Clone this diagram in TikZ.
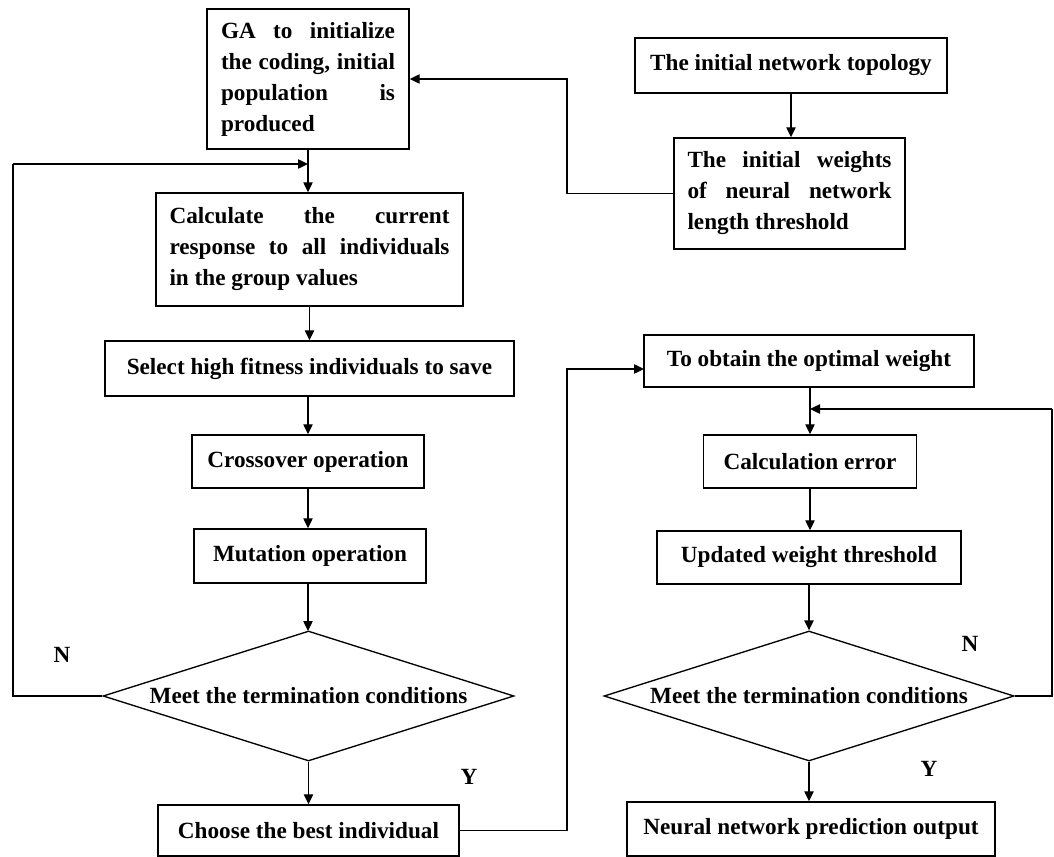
\documentclass[tikz,border=0pt]{standalone}
\usepackage{fontspec}
\setmainfont{Liberation Serif}
\usetikzlibrary{arrows.meta,shapes.geometric}
\tikzset{
  pbox/.style={draw, line width=1.1pt, rectangle, inner sep=0pt, align=left,
    font=\fontsize{17.4}{23.25}\selectfont\bfseries},
  dbox/.style={draw, line width=1pt, diamond, aspect=3.16, inner sep=0pt,
    font=\fontsize{17.4}{23.25}\selectfont\bfseries},
  lbl/.style={font=\fontsize{17.4}{20}\selectfont\bfseries, inner sep=0pt},
  arr/.style={line width=1pt, -{Triangle[length=7.5pt,width=7pt]}},
  ln/.style={line width=1pt}
}
\begin{document}
\begin{tikzpicture}[x=0.75pt, y=-0.75pt]
\path[use as bounding box] (0,0) rectangle (1054,857);
% left column
\node[pbox, minimum width=151.5pt, minimum height=105pt] (ga) at (308,79)
  {\makebox[130.5pt][s]{GA to initialize}\\
   \makebox[130.5pt][s]{the coding, initial}\\
   \makebox[130.5pt][s]{population is}\\
   produced};
\node[pbox, minimum width=230.25pt, minimum height=84.75pt] (calc) at (309.5,249.5)
  {\makebox[210pt][s]{Calculate the current}\\
   \makebox[210pt][s]{response to all individuals}\\
   in the group values};
\node[pbox, minimum width=306.75pt, minimum height=41.25pt] (sel) at (309.5,368.5)
  {Select high fitness individuals to save};
\node[pbox, minimum width=174pt, minimum height=39.75pt] (cross) at (308,461.5)
  {Crossover operation};
\node[pbox, minimum width=174pt, minimum height=40.5pt] (mut) at (310,556)
  {Mutation operation};
\node[dbox, minimum width=308.25pt, minimum height=97.5pt] (d1) at (308.5,696)
  {Meet the termination conditions};
\node[pbox, minimum width=225.75pt, minimum height=38.25pt] (choose) at (308.5,830.5)
  {Choose the best individual};
% top right
\node[pbox, minimum width=234pt, minimum height=41.25pt] (topo) at (791,65.5)
  {The initial network topology};
\node[pbox, minimum width=173.25pt, minimum height=83.25pt] (wts) at (789.5,193.5)
  {\makebox[153pt][s]{The initial weights}\\
   \makebox[153pt][s]{of neural network}\\
   length threshold};
% right column
\node[pbox, minimum width=247.5pt, minimum height=39pt] (opt) at (809,361)
  {To obtain the optimal weight};
\node[pbox, minimum width=159.75pt, minimum height=39.75pt] (cerr) at (810,461.5)
  {Calculation error};
\node[pbox, minimum width=228pt, minimum height=39.75pt] (upd) at (809,557.5)
  {Updated weight threshold};
\node[dbox, minimum width=307.5pt, minimum height=97.5pt] (d2) at (809,696)
  {Meet the termination conditions};
\node[pbox, minimum width=276pt, minimum height=40.5pt] (out) at (811,829)
  {Neural network prediction output};
% labels
\node[lbl] (n1) at (62,655) {N};
\node[lbl] (y1) at (469,777) {Y};
\node[lbl] (n2) at (970,644) {N};
\node[lbl] (y2) at (929,769) {Y};
% coordinates
\coordinate (fbL) at (13,696);
\coordinate (fbLtop) at (13,164);
\coordinate (fbLin) at (308,164);
\coordinate (wA) at (567,193.5);
\coordinate (wB) at (567,79);
\coordinate (cA) at (567,830.5);
\coordinate (cB) at (567,369);
\coordinate (optin) at (644,369);
\coordinate (rA) at (1052,696);
\coordinate (rB) at (1052,409);
\coordinate (rin) at (810,409);
% connectors left
\draw[arr] (ga.south) -- (ga.south |- calc.north);
\draw[arr] (calc.south) -- (calc.south |- sel.north);
\draw[arr] (308,396) -- (cross.north);
\draw[arr] (cross.south) -- (cross.south |- mut.north);
\draw[arr] (308,583) -- (308,631);
\draw[arr] (d1.south) -- (d1.south |- choose.north);
\draw[ln] (d1.west) -- (fbL) -- (fbLtop);
\draw[arr] (fbLtop) -- (fbLin);
% top right
\draw[arr] (topo.south) -- (topo.south |- wts.north);
\draw[arr] (wts.west) -- (wA) -- (wB) -- (ga.east);
% bridge
\draw[arr] (choose.east) -- (cA) -- (cB) -- (optin);
% right column
\draw[arr] (opt.south -| cerr.north) -- (cerr.north);
\draw[arr] (cerr.south) -- (cerr.south |- upd.north);
\draw[arr] (upd.south -| d2.north) -- (d2.north);
\draw[arr] (d2.south) -- (d2.south |- out.north);
\draw[ln] (d2.east) -- (rA) -- (rB);
\draw[arr] (rB) -- (rin);
\end{tikzpicture}
\end{document}
